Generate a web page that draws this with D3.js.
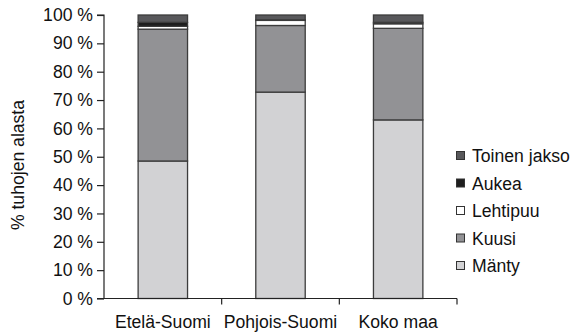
<!DOCTYPE html>
<html>
<head>
<meta charset="utf-8">
<script src="https://cdn.jsdelivr.net/npm/d3@7"></script>
<style>
  html, body { margin: 0; padding: 0; background: #fff; }
  text { font-family: "Liberation Sans", Arial, sans-serif; fill: #111; }
</style>
</head>
<body>
<svg id="chart" width="580" height="333"></svg>
<script>
// Regions on the x axis
const categories = ["Etelä-Suomi", "Pohjois-Suomi", "Koko maa"];

// Share of damaged area (%) by stand type, stacked bottom to top
const manty   = [48.5, 72.8, 63.0];
const kuusi   = [46.5, 23.5, 32.3];
const lehtipuu = [1.0, 1.8, 1.6];
const aukea   = [1.4, 0.2, 0.5];
const toinenJakso = [2.6, 1.7, 2.6];

const seriesNames = ["Mänty", "Kuusi", "Lehtipuu", "Aukea", "Toinen jakso"];
const seriesValues = [manty, kuusi, lehtipuu, aukea, toinenJakso];
const seriesColors = ["#d2d2d4", "#929295", "#ffffff", "#1e1e1e", "#58585b"];

const yTicks = [0, 10, 20, 30, 40, 50, 60, 70, 80, 90, 100];
const yTitle = "% tuhojen alasta";

const rows = categories.map((c, i) => {
  const r = { cat: c };
  seriesNames.forEach((s, k) => r[s] = seriesValues[k][i]);
  return r;
});

const FS = "17.6px";
const svg = d3.select("#chart");
const margin = { left: 104, right: 123, top: 15, bottom: 35 };
const W = 580, H = 333;

const x = d3.scaleBand().domain(categories)
  .range([margin.left, W - margin.right])
  .paddingInner(0.58).paddingOuter(0.29);
const y = d3.scaleLinear().domain([0, 100]).range([H - margin.bottom + 0.5, margin.top]);

const stack = d3.stack().keys(seriesNames);
const layers = stack(rows);

// Stacked bars
svg.append("g").selectAll("g").data(layers).join("g")
  .attr("fill", (d, i) => seriesColors[i])
  .selectAll("rect").data(d => d).join("rect")
  .attr("x", d => x(d.data.cat))
  .attr("width", x.bandwidth())
  .attr("y", d => y(d[1]))
  .attr("height", d => y(d[0]) - y(d[1]))
  .attr("stroke", "#3c3c3c")
  .attr("stroke-width", 1.3);

// Y axis
const yAxis = svg.append("g")
  .attr("transform", `translate(${margin.left},0)`)
  .call(d3.axisLeft(y).tickValues(yTicks).tickSize(7).tickPadding(4)
    .tickFormat(d => d + " %"));
yAxis.select(".domain").attr("stroke", "#222").attr("stroke-width", 1.2)
  .attr("d", `M-7,${y(100)}H0V${y(0)}H-7`);
yAxis.selectAll(".tick line").attr("stroke", "#222").attr("stroke-width", 1.2);
yAxis.selectAll(".tick text").style("font-size", FS).attr("fill", "#111");

// X axis: baseline with ticks at band boundaries
const xAxisG = svg.append("g");
const xBase = y(0);
xAxisG.append("line")
  .attr("x1", margin.left).attr("x2", W - margin.right)
  .attr("y1", xBase).attr("y2", xBase)
  .attr("stroke", "#222").attr("stroke-width", 1.2);
const step = x.step();
const bounds = categories.map((c, i) => margin.left + step * (i + 1));
xAxisG.selectAll("line.tk").data(bounds).join("line")
  .attr("class", "tk")
  .attr("x1", d => d).attr("x2", d => d)
  .attr("y1", xBase).attr("y2", xBase + 6)
  .attr("stroke", "#222").attr("stroke-width", 1.2);
xAxisG.selectAll("text").data(categories).join("text")
  .attr("x", d => x(d) + x.bandwidth() / 2)
  .attr("y", 328)
  .attr("text-anchor", "middle")
  .style("font-size", FS)
  .text(d => d);

// Y axis title
svg.append("text")
  .attr("transform", `translate(24,165) rotate(-90)`)
  .attr("text-anchor", "middle")
  .style("font-size", FS)
  .text(yTitle);

// Legend, top entry is the top of the stack
const legendItems = seriesNames.map((n, i) => ({ name: n, color: seriesColors[i] })).reverse();
const lg = svg.append("g").selectAll("g").data(legendItems).join("g")
  .attr("transform", (d, i) => `translate(456,${151 + i * 27.5})`);
lg.append("rect")
  .attr("x", 0.5).attr("y", 0.5).attr("width", 8).attr("height", 8)
  .attr("fill", d => d.color)
  .attr("stroke", "#333").attr("stroke-width", 1);
lg.append("text")
  .attr("x", 16).attr("y", 11)
  .style("font-size", FS)
  .text(d => d.name);
</script>
</body>
</html>
